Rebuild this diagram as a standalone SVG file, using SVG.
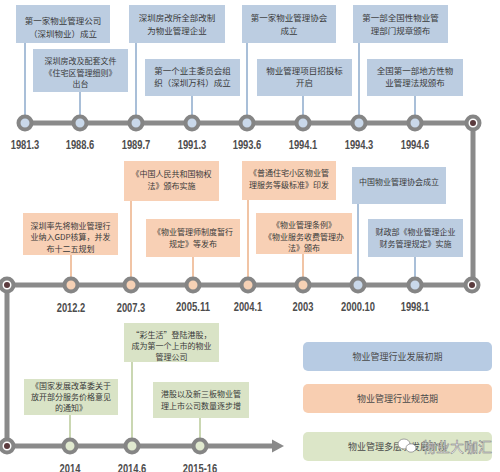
<svg xmlns="http://www.w3.org/2000/svg" width="500" height="472" viewBox="0 0 500 472">
<style>
.bb{fill:#bccde1}
.ob{fill:#f8d0b5}
.gb{fill:#d9e3c6}
.t{font-family:"Noto Sans CJK SC","Noto Sans",sans-serif;font-size:8.5px;fill:#3a3a3a;text-anchor:middle}
.s{font-size:8px}
.lt{font-family:"Noto Sans CJK SC","Noto Sans",sans-serif;font-size:9px;fill:#4a4a4a;text-anchor:middle}
.yr{font-family:"Liberation Sans",Arial,sans-serif;font-weight:bold;font-size:13px;fill:#4d4d4d;text-anchor:middle}
.cb{stroke:#a9bfd8;stroke-width:2;fill:none}
.co{stroke:#f1c4a5;stroke-width:2;fill:none}
.cg{stroke:#cad7b2;stroke-width:2;fill:none}
.tl{stroke:#8a8a8a;stroke-width:5;fill:none}
.dot{stroke:#858585;stroke-width:4}
.db{fill:#c9d8ea}
.do{fill:#f6d1b5}
.dg{fill:#e0e9cf}
.de{fill:#ffffff}
</style>
<rect width="500" height="472" fill="#ffffff"/>

<g id="connectors">
  <path class="tl" d="M25,123 H473 V285 H7 V446 H275"/>
  <polygon points="272,439.5 284,446 272,452.5" fill="#8a8a8a"/>
  <path class="cb" d="M25,43 V123 M80,92 V123 M136,43 V123 M192,96 V123 M247,43 V123 M303,96 V123 M359,43 V123 M415,96 V123"/>
  <path class="co" d="M131,201 V285 M248,200 V285 M71,255 V285 M193,257 V285 M303,254 V285"/>
  <path class="cb" d="M358,204 V285 M415,257 V285"/>
  <path class="cg" d="M132,362 V446 M70,415 V446 M200,418 V446"/>
</g>

<g id="timeline-dots">
  <circle class="dot db" cx="25" cy="123" r="6.5"/>
  <circle class="dot db" cx="80" cy="123" r="6.5"/>
  <circle class="dot db" cx="136" cy="123" r="6.5"/>
  <circle class="dot db" cx="192" cy="123" r="6.5"/>
  <circle class="dot db" cx="247" cy="123" r="6.5"/>
  <circle class="dot db" cx="303" cy="123" r="6.5"/>
  <circle class="dot db" cx="359" cy="123" r="6.5"/>
  <circle class="dot db" cx="415" cy="123" r="6.5"/>
  <circle class="dot de" cx="473" cy="123" r="6.5"/><circle cx="473" cy="123" r="3" fill="#5b3b3e"/>
  <circle class="dot de" cx="472" cy="285" r="6.5"/><circle cx="472" cy="285" r="3" fill="#5b3b3e"/>
  <circle class="dot db" cx="415" cy="285" r="6.5"/>
  <circle class="dot db" cx="358" cy="285" r="6.5"/>
  <circle class="dot do" cx="303" cy="285" r="6.5"/>
  <circle class="dot do" cx="248" cy="285" r="6.5"/>
  <circle class="dot do" cx="193" cy="285" r="6.5"/>
  <circle class="dot do" cx="131" cy="285" r="6.5"/>
  <circle class="dot do" cx="71" cy="285" r="6.5"/>
  <circle class="dot de" cx="7" cy="285" r="6.5"/><circle cx="7" cy="285" r="3" fill="#5b3b3e"/>
  <circle class="dot de" cx="7" cy="446" r="6.5"/><circle cx="7" cy="446" r="3" fill="#5b3b3e"/>
  <circle class="dot dg" cx="70" cy="446" r="6.5"/>
  <circle class="dot dg" cx="132" cy="446" r="6.5"/>
  <circle class="dot dg" cx="200" cy="446" r="6.5"/>
</g>

<g id="years">
  <text class="yr" x="25" y="149" textLength="28.6" lengthAdjust="spacingAndGlyphs">1981.3</text>
  <text class="yr" x="80" y="149" textLength="28.6" lengthAdjust="spacingAndGlyphs">1988.6</text>
  <text class="yr" x="136" y="149" textLength="28.6" lengthAdjust="spacingAndGlyphs">1989.7</text>
  <text class="yr" x="192" y="149" textLength="28.6" lengthAdjust="spacingAndGlyphs">1991.3</text>
  <text class="yr" x="247" y="149" textLength="28.6" lengthAdjust="spacingAndGlyphs">1993.6</text>
  <text class="yr" x="303" y="149" textLength="28.6" lengthAdjust="spacingAndGlyphs">1994.1</text>
  <text class="yr" x="359" y="149" textLength="28.6" lengthAdjust="spacingAndGlyphs">1994.3</text>
  <text class="yr" x="415" y="149" textLength="28.6" lengthAdjust="spacingAndGlyphs">1994.6</text>
  <text class="yr" x="71" y="312" textLength="28.6" lengthAdjust="spacingAndGlyphs">2012.2</text>
  <text class="yr" x="131" y="312" textLength="28.6" lengthAdjust="spacingAndGlyphs">2007.3</text>
  <text class="yr" x="193" y="311" textLength="33.9" lengthAdjust="spacingAndGlyphs">2005.11</text>
  <text class="yr" x="248" y="311" textLength="28.6" lengthAdjust="spacingAndGlyphs">2004.1</text>
  <text class="yr" x="303" y="311" textLength="20.8" lengthAdjust="spacingAndGlyphs">2003</text>
  <text class="yr" x="358" y="311" textLength="33.9" lengthAdjust="spacingAndGlyphs">2000.10</text>
  <text class="yr" x="415" y="311" textLength="28.6" lengthAdjust="spacingAndGlyphs">1998.1</text>
  <text class="yr" x="70" y="473" textLength="20.8" lengthAdjust="spacingAndGlyphs">2014</text>
  <text class="yr" x="132" y="473" textLength="28.6" lengthAdjust="spacingAndGlyphs">2014.6</text>
  <text class="yr" x="200" y="473" textLength="34.3" lengthAdjust="spacingAndGlyphs">2015-16</text>
</g>

<g id="e1981"><rect class="bb" x="16" y="5" width="94" height="38"/><text class="t" x="63" y="24">第一家物业管理公司</text><text class="t" x="63" y="37">（深圳物业）成立</text></g>
<g id="e1988"><rect class="bb" x="33" y="49" width="95" height="43"/><text class="t s" x="80.5" y="64">深圳房改及配套文件</text><text class="t s" x="80.5" y="75.5">《住宅区管理细则》</text><text class="t s" x="80.5" y="87">出台</text></g>
<g id="e1989"><rect class="bb" x="129" y="5" width="96" height="38"/><text class="t" x="177" y="21">深圳房改所全部改制</text><text class="t" x="177" y="33.5">为物业管理企业</text></g>
<g id="e1991"><rect class="bb" x="145" y="59" width="95" height="37"/><text class="t" x="192.5" y="73.5">第一个业主委员会组</text><text class="t" x="192.5" y="86">织（深圳万科）成立</text></g>
<g id="e1993"><rect class="bb" x="242" y="5" width="94" height="38"/><text class="t" x="289" y="21">第一家物业管理协会</text><text class="t" x="289" y="33.5">成立</text></g>
<g id="e1994a"><rect class="bb" x="257" y="59" width="95" height="37"/><text class="t" x="304.5" y="73.5">物业管理项目招投标</text><text class="t" x="304.5" y="86">开启</text></g>
<g id="e1994b"><rect class="bb" x="353" y="5" width="95" height="38"/><text class="t" x="400.5" y="21">第一部全国性物业管</text><text class="t" x="400.5" y="33.5">理部门规章颁布</text></g>
<g id="e1994c"><rect class="bb" x="367" y="59" width="96" height="37"/><text class="t" x="415" y="73.5">全国第一部地方性物</text><text class="t" x="415" y="86">业管理法规颁布</text></g>

<g id="e2007"><rect class="ob" x="124" y="161" width="95" height="40"/><text class="t s" x="171.5" y="176.5">《中国人民共和国物权</text><text class="t s" x="171.5" y="188.5">法》颁布实施</text></g>
<g id="e2004"><rect class="ob" x="242" y="161" width="94" height="39"/><text class="t s" x="289" y="176">《普通住宅小区物业管</text><text class="t s" x="289" y="188">理服务等级标准》印发</text></g>
<g id="e2012"><rect class="ob" x="23" y="213" width="95" height="42"/><text class="t s" x="70.5" y="228.5">深圳率先将物业管理行</text><text class="t s" x="70.5" y="240">业纳入GDP核算，并发</text><text class="t s" x="70.5" y="251.5">布十二五规划</text></g>
<g id="e2005"><rect class="ob" x="146" y="219" width="94" height="38"/><text class="t s" x="193" y="235">《物业管理师制度暂行</text><text class="t s" x="193" y="247">规定》等发布</text></g>
<g id="e2003"><rect class="ob" x="256" y="213" width="96" height="41"/><text class="t s" x="304" y="228">《物业管理条例》</text><text class="t s" x="304" y="239.5">《物业服务收费管理办</text><text class="t s" x="304" y="251">法》颁布</text></g>
<g id="e2000"><rect class="bb" x="352" y="167" width="94" height="37"/><text class="t s" x="399" y="184.5">中国物业管理协会成立</text></g>
<g id="e1998"><rect class="bb" x="368" y="219" width="95" height="38"/><text class="t s" x="415.5" y="235">财政部《物业管理企业</text><text class="t s" x="415.5" y="247">财务管理规定》实施</text></g>

<g id="e2014a"><rect class="gb" x="124" y="323" width="95" height="39"/><text class="t s" x="171.5" y="337.5">“彩生活”登陆港股，</text><text class="t s" x="171.5" y="349">成为第一个上市的物业</text><text class="t s" x="171.5" y="360">管理公司</text></g>
<g id="e2014"><rect class="gb" x="24" y="379" width="94" height="36"/><text class="t s" x="71" y="389">《国家发展改革委关于</text><text class="t s" x="71" y="400">放开部分服务价格意见</text><text class="t s" x="71" y="411">的通知》</text></g>
<g id="e2015"><rect class="gb" x="153" y="382" width="96" height="36"/><text class="t s" x="201" y="397">港股以及新三板物业管</text><text class="t s" x="201" y="409">理上市公司数量逐步增</text></g>

<g id="legend">
  <rect x="303" y="342" width="189" height="29" rx="5" fill="#b7cbe3"/>
  <text class="lt" x="397.5" y="360">物业管理行业发展初期</text>
  <rect x="303" y="384" width="189" height="29" rx="5" fill="#f8ceb1"/>
  <text class="lt" x="397.5" y="402">物业管理行业规范期</text>
  <rect x="303" y="432" width="189" height="29" rx="5" fill="#dce6c8"/>
  <text class="lt" x="397.5" y="450">物业管理多层次发展阶段</text>
</g>

<g id="watermark">
  <ellipse cx="404" cy="444" rx="6" ry="5" fill="#ffffff" stroke="#8a8a8a" stroke-width="0.8"/>
  <ellipse cx="411" cy="448" rx="5" ry="4.2" fill="#ffffff" stroke="#8a8a8a" stroke-width="0.8"/>
  <text x="422" y="452" font-family="'Noto Sans CJK SC',sans-serif" font-size="14" fill="#ffffff" stroke="#7a7a7a" stroke-width="0.5">物业大咖汇</text>
</g>
</svg>
